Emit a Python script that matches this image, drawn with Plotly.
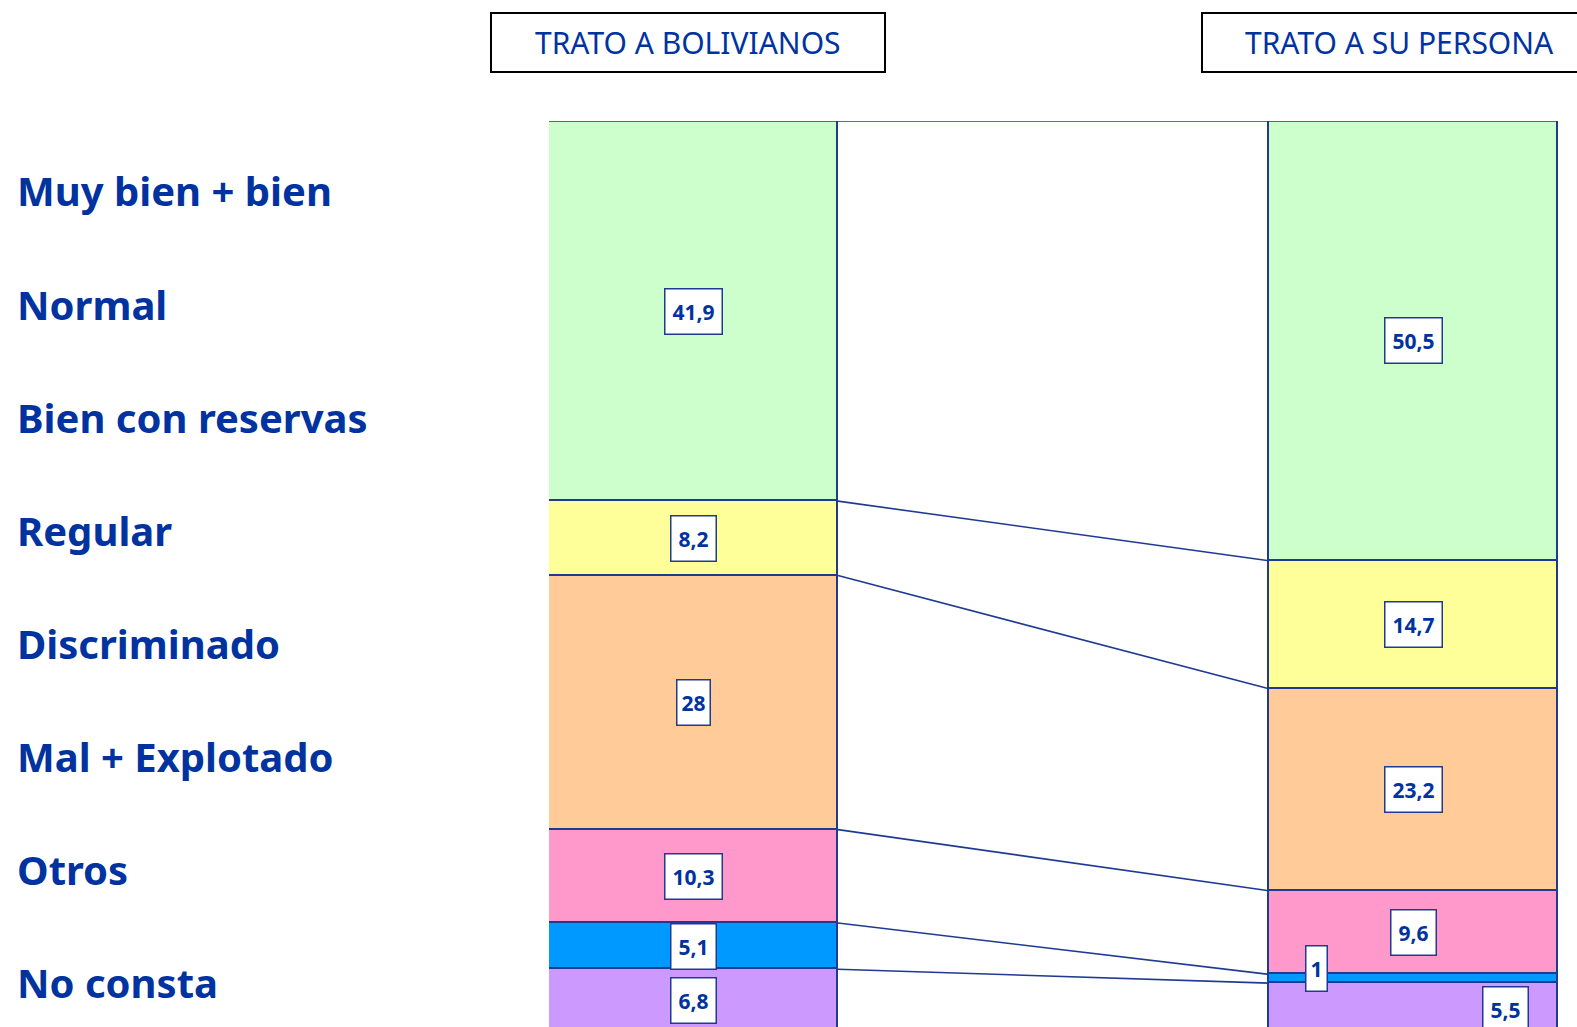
import plotly.graph_objects as go

# ---- data ----
row_labels = ["Muy bien + bien", "Normal", "Bien con reservas", "Regular",
              "Discriminado", "Mal + Explotado", "Otros", "No consta"]
groups = ["TRATO A BOLIVIANOS", "TRATO A SU PERSONA"]
segments = ["Bien", "Regular", "Discriminado", "Mal", "Otros", "No consta"]  # top -> bottom
bolivianos = [41.9, 8.2, 28, 10.3, 5.1, 6.8]
persona = [50.5, 14.7, 23.2, 9.6, 1, 5.5]
colors = ["#CCFFCC", "#FFFF99", "#FFCC99", "#FF99CC", "#0099FF", "#CC99FF"]

BLUE = "#0033A0"
EDGE = "#1F3A93"
W = 0.4014
FONT = "Noto Sans"


def fmt(v):
    return str(int(v)) if float(v).is_integer() else str(v).replace(".", ",")


def px_x(p):  # page pixel -> paper x
    return (p - 549) / 1009


def px_y(p):  # page pixel -> paper y
    return (1027 - p) / 906


fig = go.Figure()
n = len(segments)
for i in reversed(range(n)):
    fig.add_trace(go.Bar(
        x=[0, 1], y=[bolivianos[i], persona[i]], width=W, name=segments[i],
        marker=dict(color=colors[i], line=dict(color=EDGE, width=1.6)),
        hoverinfo="skip", showlegend=False))


def cum_bottom(vals):
    tot = sum(vals)
    acc = 0.0
    res = [None] * len(vals)
    for i in reversed(range(len(vals))):
        b = acc
        acc += vals[i] / tot * 100
        res[i] = (b, acc)
    return res


cl = cum_bottom(bolivianos)
cr = cum_bottom(persona)

# connector lines between matching boundaries
lx, ly = [], []
for i in range(1, n):
    lx += [W / 2, 1 - W / 2, None]
    ly += [cl[i][1], cr[i][1], None]
fig.add_trace(go.Scatter(x=lx, y=ly, mode="lines", line=dict(color=EDGE, width=1.6),
                         hoverinfo="skip", showlegend=False))

annotations = []
shifts_right = {4: (-97, 10), 5: (92, -2)}
for xi, vals, cum in [(0, bolivianos, cl), (1, persona, cr)]:
    for i, v in enumerate(vals):
        t = fmt(v)
        xs, ys = (0, 0)
        if xi == 1 and i in shifts_right:
            xs, ys = shifts_right[i]
        annotations.append(dict(
            x=xi, y=(cum[i][0] + cum[i][1]) / 2, xref="x", yref="y",
            text="<b>%s</b>" % t, showarrow=False, xshift=xs, yshift=ys,
            font=dict(family=FONT, size=21, color=BLUE),
            bgcolor="white", bordercolor=EDGE, borderwidth=1.5, borderpad=0,
            width=8 + 12 * len(t), height=44))

# left labels
for k, lab in enumerate(row_labels):
    yc = 191 + 113 * k
    annotations.append(dict(
        x=px_x(15), y=px_y(yc), xref="paper", yref="paper",
        xanchor="left", yanchor="middle", text="<b>%s</b>" % lab, showarrow=False,
        font=dict(family=FONT, size=40, color=BLUE)))

# group titles (boxes as shapes, text as annotations)
shapes = [dict(type="line", xref="paper", x0=0, x1=1, yref="y", y0=100, y1=100,
               line=dict(color=EDGE, width=1.6))]
for x0p, g in zip([491, 1202], groups):
    shapes.append(dict(type="rect", xref="paper", yref="paper",
                       x0=px_x(x0p), x1=px_x(x0p + 394), y0=px_y(72), y1=px_y(13),
                       line=dict(color="black", width=2), fillcolor="white", layer="below"))
    annotations.append(dict(
        x=px_x(x0p + 197), y=px_y(42.5), xref="paper", yref="paper",
        xanchor="center", yanchor="middle", text=g, showarrow=False,
        font=dict(family=FONT, size=30, color=BLUE)))

fig.update_layout(
    width=1577, height=1027,
    margin=dict(l=549, r=1577 - 1558, t=121, b=0),
    paper_bgcolor="white", plot_bgcolor="white",
    barmode="stack", barnorm="percent", bargap=0,
    xaxis=dict(range=[-W / 2, 1 + W / 2], visible=False, fixedrange=True),
    yaxis=dict(range=[0.44, 100], visible=False, fixedrange=True),
    annotations=annotations,
    shapes=shapes,
    showlegend=False,
)

fig.write_html("out.html", config={"displayModeBar": False},
               post_script="document.body.style.margin='0';document.body.style.overflow='hidden';")
